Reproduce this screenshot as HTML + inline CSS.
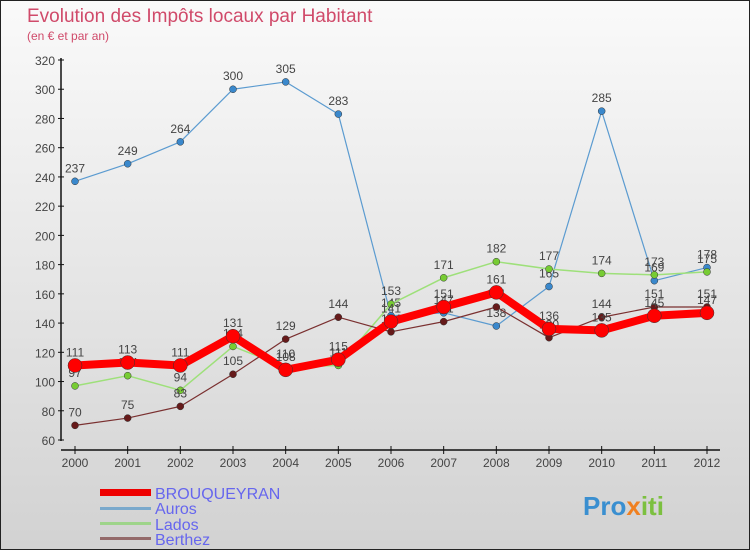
<!DOCTYPE html>
<html><head><meta charset="utf-8"><style>
html,body{margin:0;padding:0;}
body{width:750px;height:550px;overflow:hidden;font-family:"Liberation Sans",sans-serif;}
</style></head><body>
<svg id="chart" width="750" height="550" viewBox="0 0 750 550" xmlns="http://www.w3.org/2000/svg">
<defs><linearGradient id="bg" x1="0" y1="0" x2="0" y2="1"><stop offset="0" stop-color="#fafafa"/><stop offset="1" stop-color="#d2d2d2"/></linearGradient></defs>
<rect x="0.5" y="0.5" width="749" height="549" fill="url(#bg)" stroke="#222"/>
<text x="27" y="22" font-size="19" fill="#d04a6a">Evolution des Impôts locaux par Habitant</text>
<text x="27" y="40" font-size="12" fill="#d04a6a">(en € et par an)</text>
<g id="axes"></g>
<g id="series"></g>
<g id="legend">
<rect x="100" y="489" width="51" height="7" fill="#e00"/>
<text x="155" y="499" font-size="16" fill="#6666ee">BROUQUEYRAN</text>
<rect x="100" y="507" width="51" height="3" fill="#7aa9cc"/>
<text x="155" y="514" font-size="16" fill="#6666ee">Auros</text>
<rect x="100" y="522" width="51" height="3" fill="#9ed48a"/>
<text x="155" y="530" font-size="16" fill="#6666ee">Lados</text>
<rect x="100" y="537" width="51" height="3" fill="#946a6a"/>
<text x="155" y="545" font-size="16" fill="#6666ee">Berthez</text>
</g>
<text x="583" y="515" font-size="26" font-weight="bold" fill="#3a8fd0">Pro<tspan fill="#f08020">x</tspan><tspan fill="#7cc040">iti</tspan></text>
</svg>
<script>
const years=[2000,2001,2002,2003,2004,2005,2006,2007,2008,2009,2010,2011,2012];
const yTicks=[60,80,100,120,140,160,180,200,220,240,260,280,300,320];
const brouqueyran=[111,113,111,131,108,115,141,151,161,136,135,145,147];
const auros=[237,249,264,300,305,283,145,147,138,165,285,169,178];
const lados=[97,104,94,124,110,111,153,171,182,177,174,173,175];
const berthez=[70,75,83,105,129,144,134,141,151,130,144,151,151];
const NS='http://www.w3.org/2000/svg';
const xS=i=>75+i*(707-75)/(years.length-1);
const yS=v=>440-(v-60)*(380/260);
function mk(tag,attrs,parent){const e=document.createElementNS(NS,tag);for(const k in attrs)e.setAttribute(k,attrs[k]);parent.appendChild(e);return e;}
const ax=document.getElementById('axes');
const yl=mk('line',{x1:61,y1:58,x2:61,y2:441,stroke:'#111','stroke-width':1.5},ax);


yTicks.forEach(t=>{
 mk('line',{x1:58,x2:64,y1:yS(t),y2:yS(t),stroke:'#111'},ax);
 const tx=mk('text',{x:55,y:yS(t)+5,'font-size':12,'text-anchor':'end',fill:'#444'},ax);
 tx.textContent=t;
 
 
});
const xl=mk('line',{x1:61,y1:450,x2:720,y2:450,stroke:'#111','stroke-width':1.5},ax);


years.forEach((y,i)=>{
 mk('line',{x1:xS(i),x2:xS(i),y1:446,y2:454,stroke:'#111'},ax);
 const tx=mk('text',{x:xS(i),y:467,'font-size':12,'text-anchor':'middle',fill:'#444'},ax);
 tx.textContent=y;
 
 
});
const sg=document.getElementById('series');
function series(name,data,color,w,r,dot){
 const g=mk('g',{},sg);
 
 
 const pl=mk('polyline',{points:data.map((v,i)=>xS(i)+','+yS(v)).join(' '),fill:'none',stroke:color,'stroke-width':w,'stroke-linejoin':'round'},g);
 
 
 data.forEach((v,i)=>{
  const c=mk('circle',{cx:xS(i),cy:yS(v),r:r,fill:dot,stroke:'#333','stroke-width':0.5},g);
  
  
  const t=mk('text',{x:xS(i),y:yS(v)-9,'font-size':12,'text-anchor':'middle',fill:'#444'},g);
  t.textContent=v;
  
  
 });
}
series('auros',auros,'#5b9bd0',1.2,3.5,'#3a88cc');
series('lados',lados,'#9ee07a',1.5,3.5,'#77cc33');
series('berthez',berthez,'#7a3030',1.2,3.5,'#661a1a');
series('brouqueyran',brouqueyran,'#ff0000',8,7,'#ff0000');
</script>
</body></html>
